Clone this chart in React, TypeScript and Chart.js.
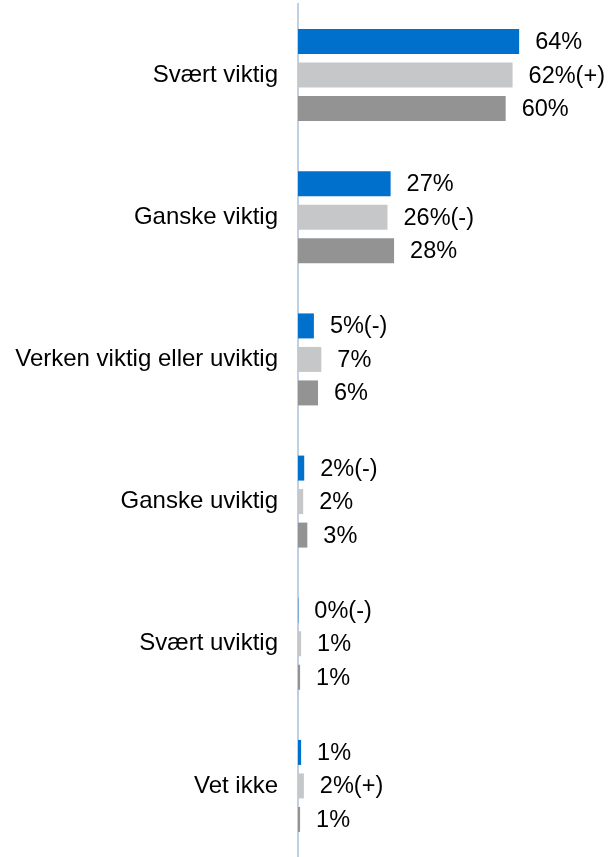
import React, { useEffect, useRef } from "react";
import { Chart, registerables } from "chart.js";

Chart.register(...registerables);

const categories = [
  "Svært viktig",
  "Ganske viktig",
  "Verken viktig eller uviktig",
  "Ganske uviktig",
  "Svært uviktig",
  "Vet ikke",
];

const seriesA = [64, 26.8, 4.6, 1.8, 0.1, 0.9];
const seriesB = [62.1, 25.9, 6.75, 1.5, 0.9, 1.7];
const seriesC = [60.1, 27.8, 5.8, 2.7, 0.6, 0.6];

const labelsA = ["64%", "27%", "5%(-)", "2%(-)", "0%(-)", "1%"];
const labelsB = ["62%(+)", "26%(-)", "7%", "2%", "1%", "2%(+)"];
const labelsC = ["60%", "28%", "6%", "3%", "1%", "1%"];

const colors = ["#0070CD", "#C6C7C9", "#939393"];
const FONT = "'Liberation Sans', Arial, sans-serif";

export default function App() {
  const ref = useRef<HTMLCanvasElement | null>(null);

  useEffect(() => {
    if (!ref.current) return;
    const allLabels = [labelsA, labelsB, labelsC];
    const valueLabels = {
      id: "valueLabels",
      afterDatasetsDraw(chart: any) {
        const ctx = chart.ctx;
        ctx.save();
        ctx.font = `23.5px ${FONT}`;
        ctx.fillStyle = "#000000";
        ctx.textAlign = "left";
        ctx.textBaseline = "middle";
        chart.data.datasets.forEach((_: any, di: number) => {
          const meta = chart.getDatasetMeta(di);
          meta.data.forEach((el: any, i: number) => {
            ctx.fillText(allLabels[di][i], el.x + 16, el.y + 1);
          });
        });
        ctx.restore();
      },
    };

    const chart = new Chart(ref.current, {
      type: "bar",
      data: {
        labels: categories,
        datasets: [
          { data: seriesA, backgroundColor: colors[0] },
          { data: seriesB, backgroundColor: colors[1] },
          { data: seriesC, backgroundColor: colors[2] },
        ],
      },
      options: {
        indexAxis: "y",
        responsive: false,
        animation: false,
        events: [],
        datasets: {
          bar: { categoryPercentage: 0.707, barPercentage: 0.746, borderWidth: 0 },
        },
        layout: { padding: { left: 13, right: 2, top: 4, bottom: 0 } },
        plugins: { legend: { display: false }, tooltip: { enabled: false } },
        scales: {
          x: { display: false, min: 0, max: 90 },
          y: {
            grid: { display: false },
            border: { display: true, color: "#C0CFE2", width: 2 },
            ticks: {
              padding: 12,
              color: "#000000",
              font: { family: FONT, size: 24 },
            },
            afterFit(scale: any) {
              scale.width = 285;
              scale.paddingTop = 0;
              scale.paddingBottom = 0;
            },
          },
        },
      },
      plugins: [valueLabels],
    });
    return () => chart.destroy();
  }, []);

  return (
    <div style={{ position: "absolute", left: 0, top: 0, width: 611, height: 857 }}>
      <canvas ref={ref} width={611} height={857} />
    </div>
  );
}
